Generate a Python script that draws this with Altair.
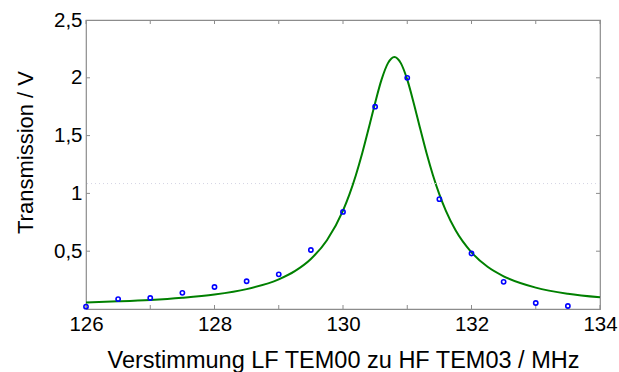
import altair as alt
import pandas as pd

# measured data points
x_data = [126.0, 126.5, 127.0, 127.5, 128.0, 128.5, 129.0, 129.5, 130.0, 130.5,
          131.0, 131.5, 132.0, 132.5, 133.0, 133.5]
y_data = [0.02, 0.086, 0.095, 0.14, 0.19, 0.24, 0.30, 0.51, 0.84, 1.75,
          2.00, 0.95, 0.48, 0.235, 0.052, 0.026]

# fitted curve
x_curve = [126.0, 126.5, 127.0, 127.5, 128.0, 128.5, 129.0, 129.25, 129.5, 129.75,
           130.0, 130.1, 130.2, 130.3, 130.4, 130.5, 130.6, 130.7, 130.8, 130.9,
           131.0, 131.1, 131.2, 131.3, 131.4, 131.5, 131.6, 131.75, 132.0, 132.25,
           132.5, 133.0, 133.5, 134.0]
y_curve = [0.057, 0.066, 0.078, 0.097, 0.125, 0.172, 0.257, 0.328, 0.433, 0.595,
           0.851, 0.991, 1.157, 1.349, 1.563, 1.783, 1.984, 2.127, 2.18, 2.127,
           1.984, 1.783, 1.563, 1.349, 1.157, 0.991, 0.851, 0.683, 0.490, 0.365,
           0.283, 0.185, 0.132, 0.101]

half_max = [1.085]

x_ticks = [126, 127, 128, 129, 130, 131, 132, 133, 134]
x_labels = [126, 128, 130, 132, 134]
y_ticks = [0.5, 1.0, 1.5, 2.0]
y_labels = [0.5, 1.0, 1.5, 2.0, 2.5]

W, H = 514, 289
FONT = "Liberation Sans"

xs = alt.Scale(domain=[126, 134], nice=False, zero=False)
ys = alt.Scale(domain=[0, 2.5], nice=False)

label_expr = "datum.value == 0 ? '' : replace(toString(datum.value), '.', ',')"

curve_df = pd.DataFrame({"x": x_curve, "y": y_curve})
data_df = pd.DataFrame({"x": x_data, "y": y_data})
hm_df = pd.DataFrame({"y": half_max})
xt_df = pd.DataFrame({"x": x_ticks})
yt_df = pd.DataFrame({"y": y_ticks})

common = dict(labelFontSize=20.5, labelFont=FONT, titleFont=FONT,
              labelColor="black", titleColor="black", titleFontWeight="normal",
              domain=False, ticks=False, grid=False)
xaxis = alt.Axis(values=x_labels, title="Verstimmung LF TEM00 zu HF TEM03 / MHz",
                 format="d", labelFlush=False, labelPadding=5,
                 titleFontSize=23.5, titleBaseline="alphabetic", titleY=58, **common)
yaxis = alt.Axis(values=y_labels, title="Transmission / V", labelExpr=label_expr,
                 labelPadding=4, titleFontSize=22, titleAngle=-90, titleAlign="center",
                 titleBaseline="alphabetic", titleX=-54, titleY=132, **common)

X = lambda: alt.X("x:Q", scale=xs, axis=xaxis)
Y = lambda: alt.Y("y:Q", scale=ys, axis=yaxis)

half = alt.Chart(hm_df).mark_rule(color="#d4d4e4", strokeDash=[1, 3], strokeWidth=1).encode(y=Y())

line = alt.Chart(curve_df).mark_line(color="#008000", strokeWidth=2, interpolate="monotone").encode(
    x=X(), y=Y())

pts = alt.Chart(data_df).mark_point(shape="circle", filled=False, color="#0000ff",
                                    size=18, strokeWidth=1.6, opacity=1).encode(x=X(), y=Y())

tick_color = "#8c8c8c"
xt_bottom = alt.Chart(xt_df).mark_rule(color=tick_color).encode(
    x=X(), y=alt.value(H), y2=alt.value(H - 4))
xt_top = alt.Chart(xt_df).mark_rule(color=tick_color).encode(
    x=X(), y=alt.value(0), y2=alt.value(4))
yt_left = alt.Chart(yt_df).mark_rule(color=tick_color).encode(
    y=Y(), x=alt.value(0), x2=alt.value(4))
yt_right = alt.Chart(yt_df).mark_rule(color=tick_color).encode(
    y=Y(), x=alt.value(W), x2=alt.value(W - 4))

chart = alt.layer(line, half, xt_bottom, xt_top, yt_left, yt_right, pts).properties(
    width=W, height=H,
    autosize=alt.AutoSizeParams(type="none"),
    padding={"left": 86, "top": 20, "right": 19, "bottom": 63},
    background="white",
).configure_view(stroke=tick_color, strokeWidth=1.2)

chart.save("out.html", embed_options={"renderer": "svg", "actions": False})
